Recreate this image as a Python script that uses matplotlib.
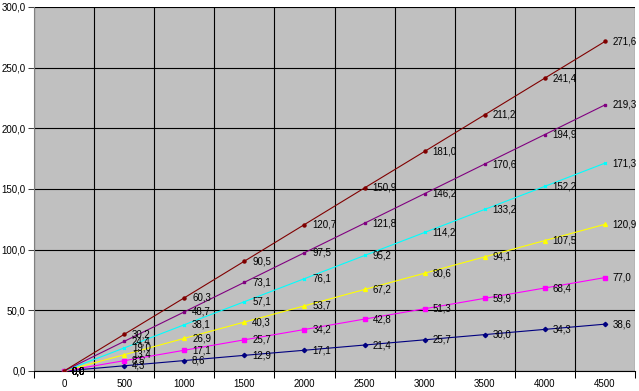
import numpy as np
import matplotlib
matplotlib.use("Agg")
import matplotlib.pyplot as plt

plt.rcParams['font.family'] = ['Liberation Sans', 'DejaVu Sans']

x_labels = ['0', '500', '1000', '1500', '2000', '2500', '3000', '3500', '4000', '4500']

navy_vals = [0.0, 4.3, 8.6, 12.9, 17.1, 21.4, 25.7, 30.0, 34.3, 38.6]
magenta_vals = [0.0, 8.5, 17.1, 25.7, 34.2, 42.8, 51.3, 59.9, 68.4, 77.0]
yellow_vals = [0.0, 13.4, 26.9, 40.3, 53.7, 67.2, 80.6, 94.1, 107.5, 120.9]
cyan_vals = [0.0, 19.0, 38.1, 57.1, 76.1, 95.2, 114.2, 133.2, 152.2, 171.3]
purple_vals = [0.0, 24.4, 48.7, 73.1, 97.5, 121.8, 146.2, 170.6, 194.9, 219.3]
red_vals = [0.0, 30.2, 60.3, 90.5, 120.7, 150.9, 181.0, 211.2, 241.4, 271.6]

series = [
    (navy_vals, '#000080', 'D', 2.2),
    (magenta_vals, '#FF00FF', 's', 2.8),
    (yellow_vals, '#FFFF00', '^', 2.8),
    (cyan_vals, '#00FFFF', 'x', 2),
    (purple_vals, '#800080', 's', 1.8),
    (red_vals, '#800000', 'o', 2.2),
]

def fmt(v):
    return f"{v:.1f}".replace('.', ',')

fig = plt.figure(figsize=(6.39, 3.91), dpi=100, facecolor='white')
ax = fig.add_axes([34/639, 20/391, 601/639, 364/391])
ax.set_facecolor('#C0C0C0')

xs = np.arange(len(x_labels))
for vals, col, mk, ms in series:
    ax.plot(xs, vals, color=col, lw=0.8, marker=mk, ms=ms, mec=col, mfc=col, zorder=3)
    for xi, v in zip(xs, vals):
        ax.text(xi + 0.13, v, fmt(v), fontsize=7, va='center', ha='left', zorder=4)

ax.set_xlim(-0.5, len(x_labels) - 0.5)
ax.set_ylim(0, 300)
ax.set_xticks(xs)
ax.set_xticklabels(x_labels, fontsize=7)
ax.set_xticks(np.arange(-0.5, len(x_labels)), minor=True)
ax.tick_params(axis='x', which='major', length=0, pad=6)
ax.tick_params(axis='x', which='minor', length=5, width=0.75, color='black')
ax.set_yticks(np.arange(0, 301, 50))
ax.set_yticklabels([fmt(v) for v in np.arange(0, 301, 50)], fontsize=7)
ax.tick_params(axis='y', length=4, width=0.75, color='#404040', pad=2)
ax.grid(axis='x', which='minor', color='black', lw=0.8)
ax.grid(axis='y', which='major', color='black', lw=0.8)
ax.set_axisbelow(True)
for s in ['top', 'right']:
    ax.spines[s].set_visible(False)
ax.spines['left'].set_color('#808080')
ax.spines['left'].set_linewidth(0.8)
ax.spines['bottom'].set_color('black')
ax.spines['bottom'].set_linewidth(0.8)

fig.savefig('out.png', dpi=100, facecolor='white')
